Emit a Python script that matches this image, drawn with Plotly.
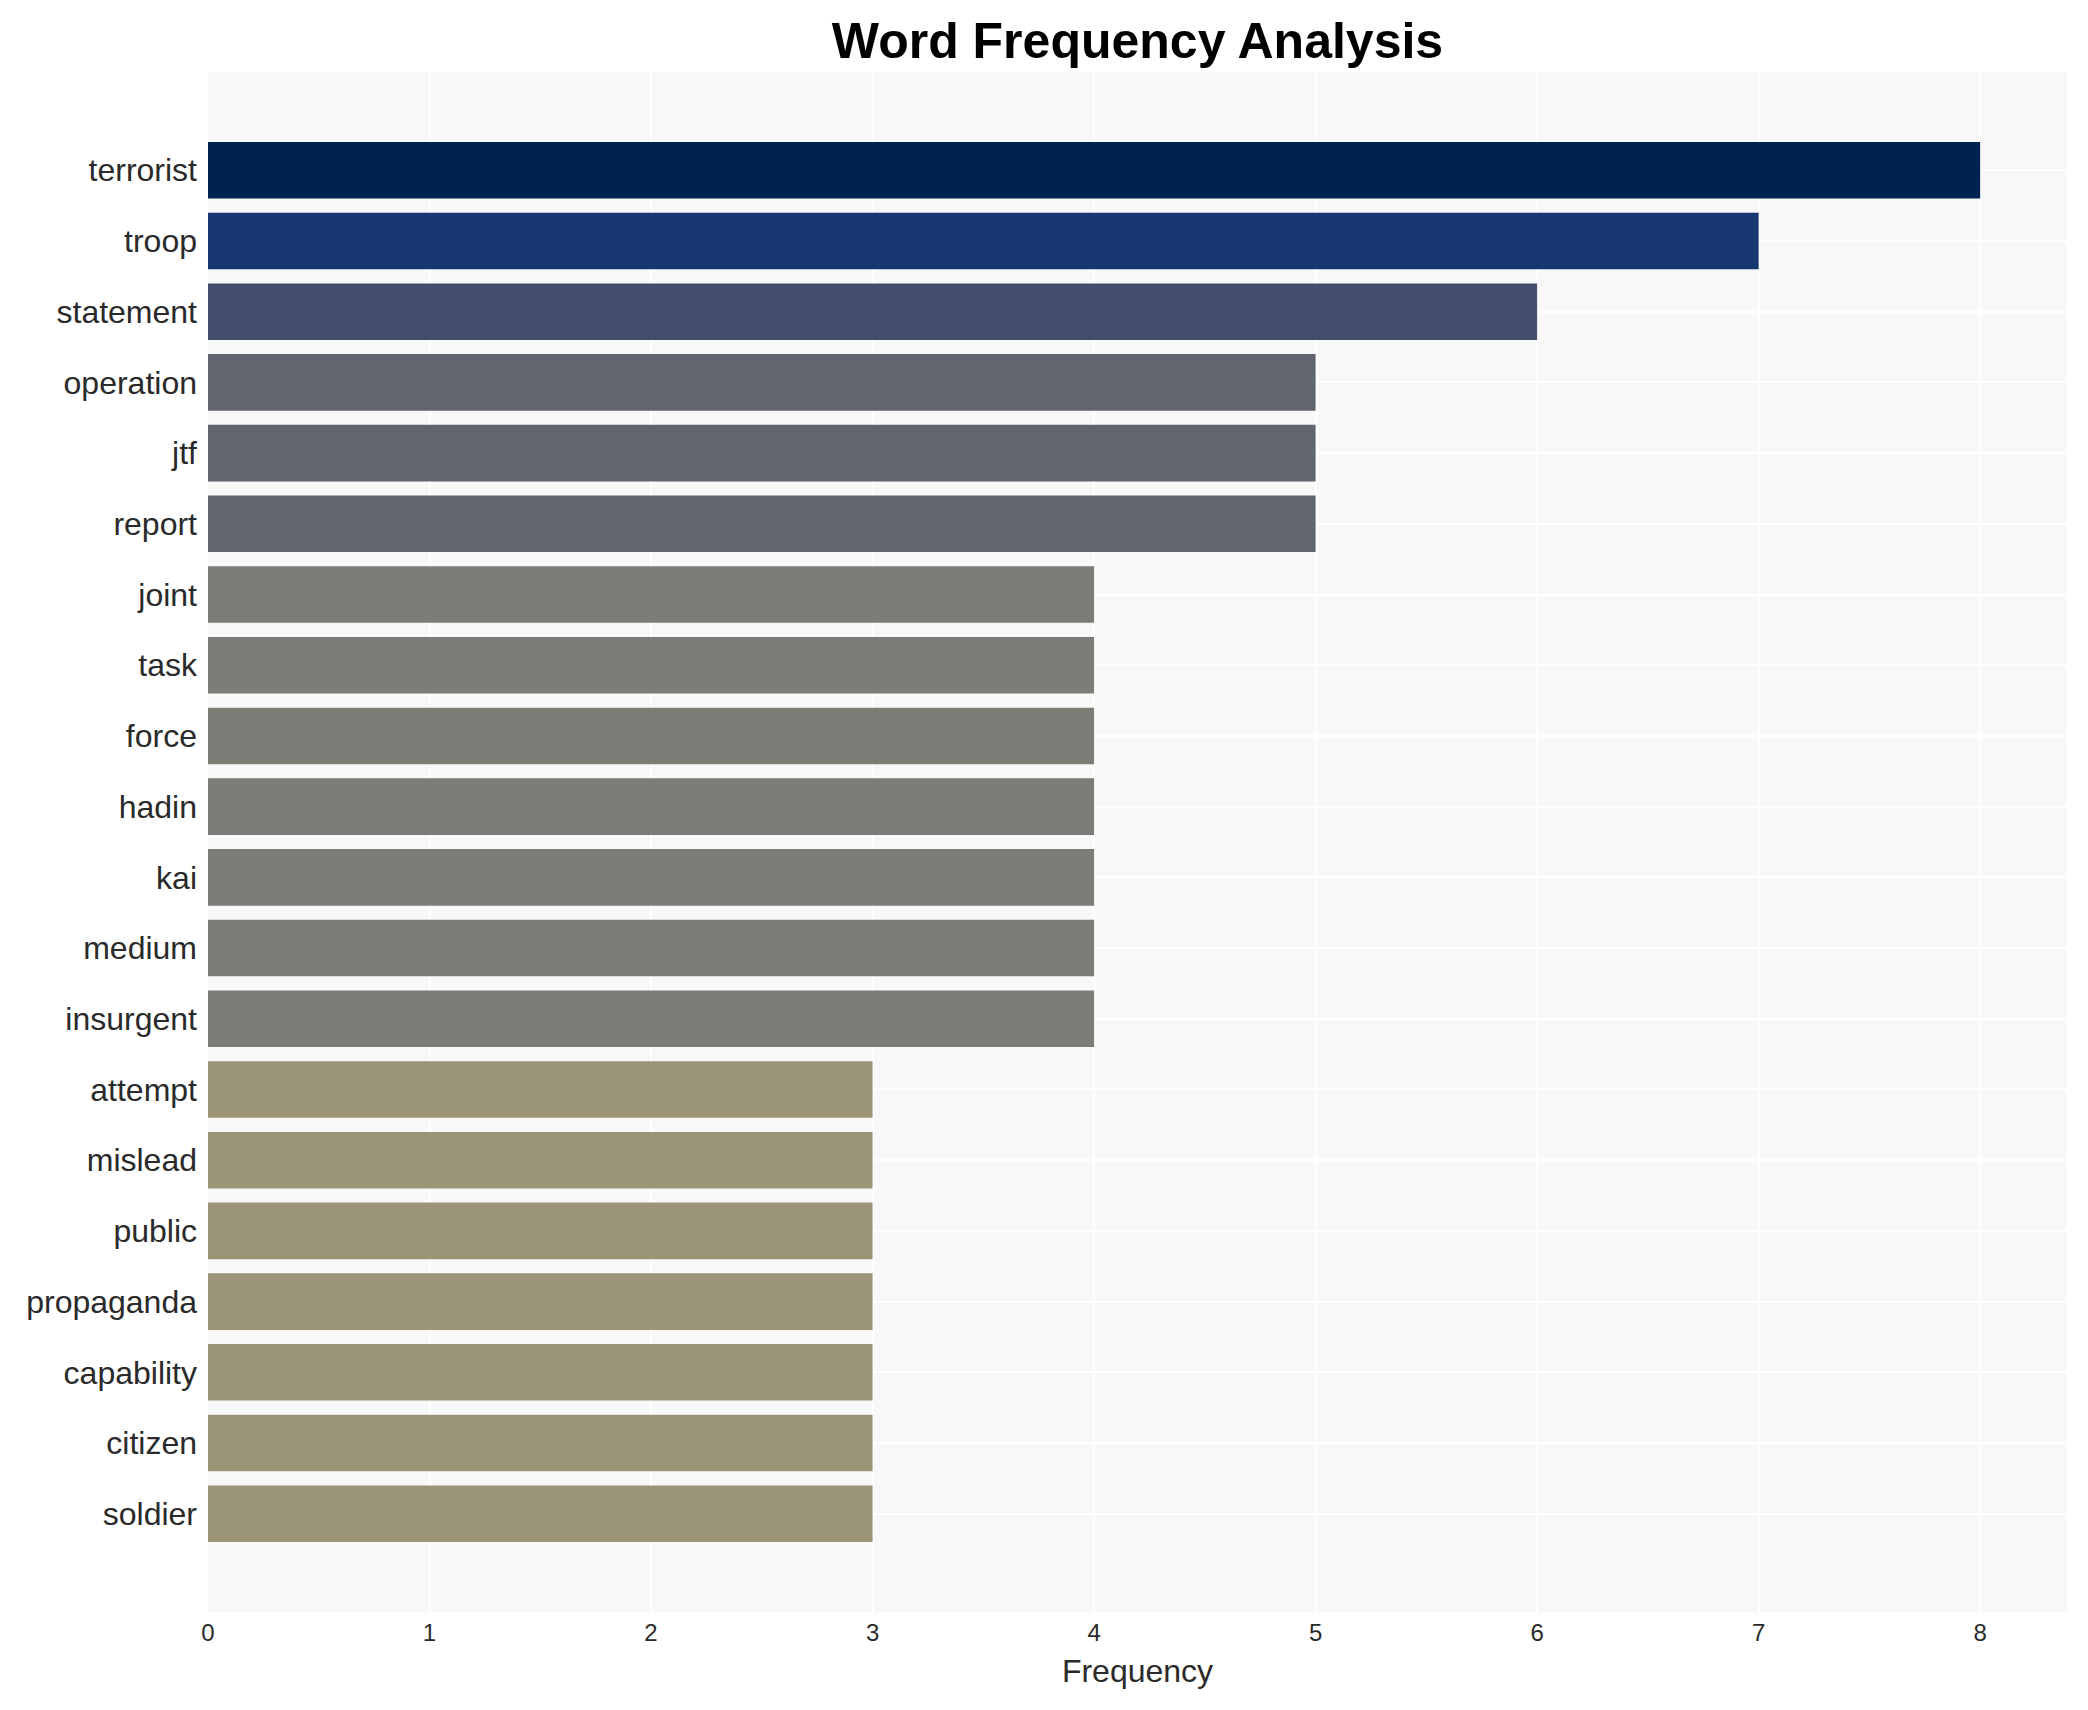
import plotly.graph_objects as go

words = ["terrorist", "troop", "statement", "operation", "jtf", "report", "joint", "task",
         "force", "hadin", "kai", "medium", "insurgent", "attempt", "mislead", "public",
         "propaganda", "capability", "citizen", "soldier"]
counts = [8, 7, 6, 5, 5, 5, 4, 4, 4, 4, 4, 4, 4, 3, 3, 3, 3, 3, 3, 3]

W, H = 2080, 1702  # page body has an 8px margin

fig = go.Figure(go.Bar(
    x=counts,
    y=words,
    orientation="h",
    marker=dict(color=counts, colorscale="Cividis", reversescale=True,
                cmin=0, cmax=max(counts), line=dict(width=0)),
    width=0.8,
))

fig.update_layout(
    width=W, height=H,
    margin=dict(l=200, r=21, t=64, b=98),
    paper_bgcolor="white",
    plot_bgcolor="#f8f8f8",
    font=dict(family="Liberation Sans, Arial, sans-serif", size=32, color="#2a2a2a"),
    title=dict(text="<b>Word Frequency Analysis</b>", x=0.5, xref="paper", xanchor="center",
               y=1 - 32 / H, yanchor="middle", yref="container",
               font=dict(size=50, color="black")),
    showlegend=False,
    bargap=0.2,
)
fig.update_xaxes(
    title=dict(text="Frequency", font=dict(size=32), standoff=14),
    tickfont=dict(size=24),
    range=[0, max(counts) * 1.049],
    showgrid=True, gridcolor="white", gridwidth=2,
    zeroline=False, dtick=1, tick0=0,
    ticklabelstandoff=4,
)
fig.update_yaxes(
    type="category",
    categoryorder="array", categoryarray=words,
    range=[len(words) - 1 + 1.39, -1.39],
    showgrid=True, gridcolor="white", gridwidth=2,
    tickfont=dict(size=32),
    ticklabelstandoff=10,
)

fig.write_html("out.html")
